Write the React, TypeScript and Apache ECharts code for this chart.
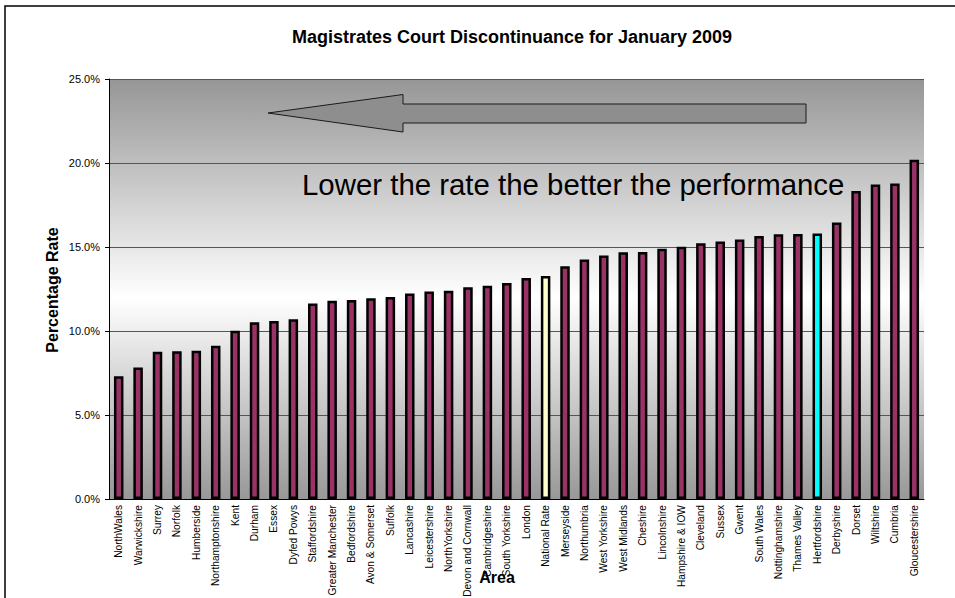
import React, { useEffect, useRef } from "react";
import * as echarts from "echarts";

const categories = [
  "NorthWales", "Warwickshire", "Surrey", "Norfolk", "Humberside", "Northamptonshire",
  "Kent", "Durham", "Essex", "Dyfed Powys", "Staffordshire", "Greater Manchester",
  "Bedfordshire", "Avon & Somerset", "Suffolk", "Lancashire", "Leicestershire",
  "NorthYorkshire", "Devon and Cornwall", "Cambridgeshire", "South Yorkshire", "London",
  "National Rate", "Merseyside", "Northumbria", "West Yorkshire", "West Midlands",
  "Cheshire", "Lincolnshire", "Hampshire & IOW", "Cleveland", "Sussex", "Gwent",
  "South Wales", "Nottinghamshire", "Thames Valley", "Hertfordshire", "Derbyshire",
  "Dorset", "Wiltshire", "Cumbria", "Gloucestershire",
];

const rates = [
  7.3, 7.82, 8.77, 8.79, 8.82, 9.12,
  10.02, 10.52, 10.6, 10.7, 11.64, 11.8,
  11.84, 11.95, 12.03, 12.23, 12.35,
  12.39, 12.61, 12.69, 12.85, 13.16,
  13.28, 13.86, 14.25, 14.49, 14.69,
  14.7, 14.89, 15.01, 15.23, 15.33, 15.45,
  15.66, 15.76, 15.77, 15.8, 16.46,
  18.34, 18.72, 18.78, 20.19,
];

const yTicks = [0, 5, 10, 15, 20, 25];

const highlightColors: Record<string, string> = {
  "National Rate": "#FFFFCC",
  Hertfordshire: "#00FFFF",
};

const titleText = "Magistrates Court Discontinuance for January 2009";
const noteText = "Lower the rate the better the performance";
const yName = "Percentage Rate";
const xName = "Area";

const FONT = "'Liberation Sans', Arial, Helvetica, sans-serif";

export default function App() {
  const ref = useRef<HTMLDivElement>(null);

  useEffect(() => {
    if (!ref.current) return;
    const chart = echarts.init(ref.current, null, { renderer: "svg" });

    const data = categories.map((c, i) => ({
      value: rates[i],
      itemStyle: { color: highlightColors[c] || "#993366" },
    }));

    chart.setOption({
      animation: false,
      backgroundColor: "#ffffff",
      textStyle: { fontFamily: FONT },
      grid: {
        left: 109,
        right: 31,
        top: 79,
        bottom: 99,
        containLabel: false,
        outerBoundsMode: "none",
        show: true,
        borderWidth: 0,
        backgroundColor: new echarts.graphic.LinearGradient(0, 0, 0, 1, [
          { offset: 0, color: "#969696" },
          { offset: 0.52, color: "#ffffff" },
          { offset: 1, color: "#989898" },
        ]),
      },
      xAxis: {
        type: "category",
        data: categories,
        axisLine: { lineStyle: { color: "#000", width: 1 } },
        axisTick: { alignWithLabel: false, length: 4, lineStyle: { color: "#000" } },
        axisLabel: {
          interval: 0,
          rotate: 90,
          fontSize: 10.2,
          color: "#000",
          margin: 6,
          fontFamily: FONT,
        },
      },
      yAxis: {
        type: "value",
        min: yTicks[0],
        max: yTicks[yTicks.length - 1],
        interval: 5,
        axisLine: { show: true, lineStyle: { color: "#000", width: 1 } },
        axisTick: { show: true, length: 4, lineStyle: { color: "#000" } },
        axisLabel: {
          fontSize: 11,
          color: "#000",
          margin: 9,
          fontFamily: FONT,
          formatter: (v: number) => v.toFixed(1) + "%",
        },
        splitLine: { show: true, lineStyle: { color: "#555", width: 1 } },
      },
      series: [
        {
          type: "bar",
          data,
          barWidth: 9.5,
          itemStyle: { borderColor: "#000", borderWidth: 2.5 },
        },
      ],
      graphic: [
        {
          type: "rect",
          shape: { x: 5, y: 6, width: 1200, height: 1000 },
          style: { fill: "none", stroke: "#000", lineWidth: 1.5 },
          z: 100,
          silent: true,
        },
        {
          type: "text",
          x: 512,
          y: 37,
          style: {
            text: titleText,
            font: `bold 18px ${FONT}`,
            fill: "#000",
            align: "center",
            verticalAlign: "middle",
          },
        },
        {
          type: "text",
          x: 52,
          y: 290,
          rotation: Math.PI / 2,
          style: {
            text: yName,
            font: `bold 16px ${FONT}`,
            fill: "#000",
            align: "center",
            verticalAlign: "middle",
          },
        },
        {
          type: "text",
          x: 497,
          y: 577,
          style: {
            text: xName,
            font: `bold 16px ${FONT}`,
            fill: "#000",
            align: "center",
            verticalAlign: "middle",
          },
          z: 50,
        },
        {
          type: "polygon",
          shape: {
            points: [
              [268, 113],
              [403, 94.5],
              [403, 104],
              [806, 104],
              [806, 123],
              [403, 123],
              [403, 132],
            ],
          },
          style: { fill: "#8e8e8e", stroke: "#1a1a1a", lineWidth: 1 },
          z: 50,
        },
        {
          type: "text",
          x: 302,
          y: 184,
          style: {
            text: noteText,
            font: `29.4px ${FONT}`,
            fill: "#000",
            align: "left",
            verticalAlign: "middle",
          },
          z: 50,
        },
      ],
    });

    return () => chart.dispose();
  }, []);

  return (
    <div
      ref={ref}
      style={{ position: "absolute", left: 0, top: 0, width: 955, height: 598 }}
    />
  );
}
